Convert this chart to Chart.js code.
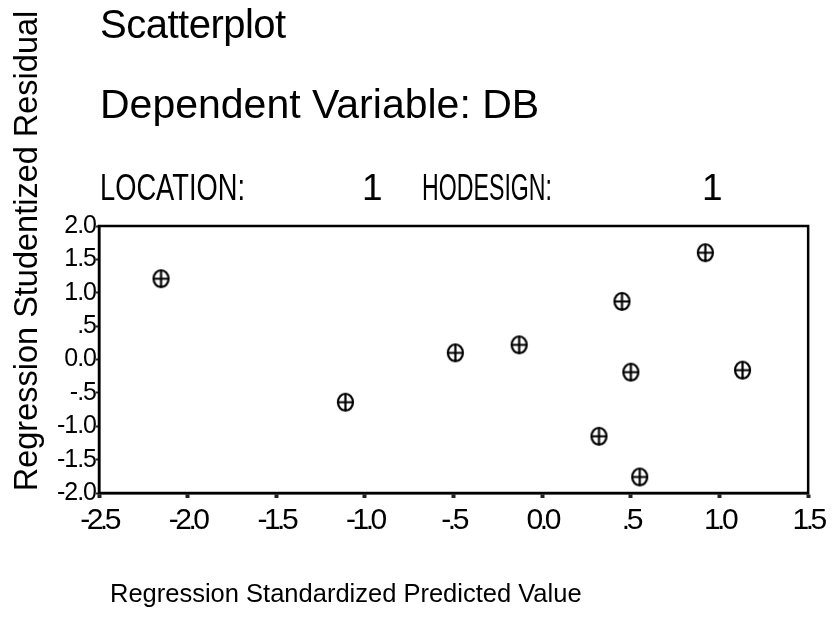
<!DOCTYPE html>
<html lang="en">
<head>
    <meta charset="UTF-8">
    <title>Scatterplot</title>
    <script src="https://cdn.jsdelivr.net/npm/chart.js"></script>
    <style>
        body { margin: 0; background: #fff; }
        #wrap { width: 834px; height: 617px; }
    </style>
</head>
<body>
    <div id="wrap"><canvas id="residChart" width="834" height="617"></canvas></div>

    <script>
        // predicted (standardized) vs studentized residual
        const predicted = [-2.15, -1.11, -0.49, -0.13, 0.45, 0.92, 0.50, 1.13, 0.32, 0.55];
        const residual = [1.21, -0.64, 0.10, 0.22, 0.87, 1.60, -0.19, -0.16, -1.15, -1.76];

        const xTickLabels = ["-2.5", "-2.0", "-1.5", "-1.0", "-.5", "0.0", ".5", "1.0", "1.5"];
        const yTickLabels = ["-2.0", "-1.5", "-1.0", "-.5", "0.0", ".5", "1.0", "1.5", "2.0"];

        const FONT = "'Liberation Sans', Arial, Helvetica, sans-serif";

        // circle-with-plus marker
        function makeMarker() {
            let c = document.createElement("canvas");
            c.width = 19; c.height = 21;
            let g = c.getContext("2d");
            g.strokeStyle = "#000";
            g.lineWidth = 2.2;
            g.beginPath();
            g.ellipse(9.5, 10.5, 7.5, 8.5, 0, 0, Math.PI * 2);
            g.moveTo(2, 10.5); g.lineTo(17, 10.5);
            g.moveTo(9.5, 2); g.lineTo(9.5, 19);
            g.stroke();
            return c;
        }

        function drawText(ctx, txt, x, y, size, spacing, maxW) {
            ctx.save();
            ctx.font = size + "px " + FONT;
            ctx.letterSpacing = spacing + "px";
            ctx.fillStyle = "#000";
            ctx.textAlign = "left";
            ctx.textBaseline = "alphabetic";
            if (maxW) ctx.fillText(txt, x, y, maxW); else ctx.fillText(txt, x, y);
            ctx.restore();
        }

        const spssText = {
            id: "spssText",
            beforeDraw(chart) {
                // x tick labels are narrow and tall
                chart.ctx.letterSpacing = "-3.5px";
            },
            afterDatasetsDraw(chart) {
                // y tick labels (ticks.z = 1) come after the points
                chart.ctx.letterSpacing = "-1px";
            },
            afterDraw(chart) {
                let ctx = chart.ctx;
                let a = chart.chartArea;
                ctx.letterSpacing = "0px";
                ctx.save();
                ctx.strokeStyle = "#000";
                ctx.lineWidth = 2.5;
                ctx.strokeRect(a.left, a.top, a.right - a.left, a.bottom - a.top);
                ctx.restore();

                drawText(ctx, "Scatterplot", 100, 38, 40, -0.5);
                drawText(ctx, "Dependent Variable: DB", 100, 118, 41, 0);
                drawText(ctx, "LOCATION:", 100, 200, 37, 0, 145);
                drawText(ctx, "1", 362, 200, 37, 0);
                drawText(ctx, "HODESIGN:", 422, 200, 37, 0, 130);
                drawText(ctx, "1", 702, 200, 37, 0);

                drawText(ctx, "Regression Standardized Predicted Value", 110, 602, 25.5, 0);

                ctx.save();
                ctx.translate(37, 251);
                ctx.rotate(-Math.PI / 2);
                ctx.font = "32.5px " + FONT;
                ctx.fillStyle = "#000";
                ctx.textAlign = "center";
                ctx.textBaseline = "alphabetic";
                ctx.fillText("Regression Studentized Residual", 0, 0);
                ctx.restore();
            }
        };

        new Chart(document.getElementById("residChart").getContext("2d"), {
            type: "scatter",
            data: {
                datasets: [{
                    label: "Residuals",
                    data: predicted.map((p, i) => ({ x: p, y: residual[i] })),
                    pointStyle: makeMarker(),
                    pointRadius: 9,
                    pointHoverRadius: 9
                }]
            },
            options: {
                responsive: false,
                animation: false,
                events: [],
                layout: { padding: { left: 0, right: 22, top: 226, bottom: 0 } },
                plugins: {
                    legend: { display: false },
                    tooltip: { enabled: false },
                    title: { display: false }
                },
                scales: {
                    x: {
                        type: "linear",
                        min: -2.5, max: 1.5,
                        afterFit: s => { s.height = 124; },
                        afterBuildTicks: s => {
                            s.ticks = xTickLabels.map((t, i) => ({ value: -2.5 + i * 0.5 }));
                        },
                        grid: { drawOnChartArea: false, drawTicks: true, tickLength: 5, tickWidth: 4, tickColor: "#222" },
                        border: { display: true, color: "#000", width: 2.5 },
                        ticks: {
                            color: "#000",
                            font: { family: FONT, size: 30 },
                            padding: 5,
                            maxRotation: 0,
                            autoSkip: false,
                            callback: (v, i) => xTickLabels[i]
                        }
                    },
                    y: {
                        type: "linear",
                        min: -2, max: 2,
                        afterFit: s => { s.width = 99; },
                        afterBuildTicks: s => {
                            s.ticks = yTickLabels.map((t, i) => ({ value: -2 + i * 0.5 }));
                        },
                        grid: { drawOnChartArea: false, drawTicks: true, tickLength: 3, tickWidth: 2, tickColor: "#222" },
                        border: { display: true, color: "#000", width: 2.5 },
                        ticks: {
                            z: 1,
                            color: "#000",
                            font: { family: FONT, size: 25 },
                            padding: 0,
                            autoSkip: false,
                            callback: (v, i) => yTickLabels[i]
                        }
                    }
                }
            },
            plugins: [spssText]
        });
    </script>
</body>
</html>
